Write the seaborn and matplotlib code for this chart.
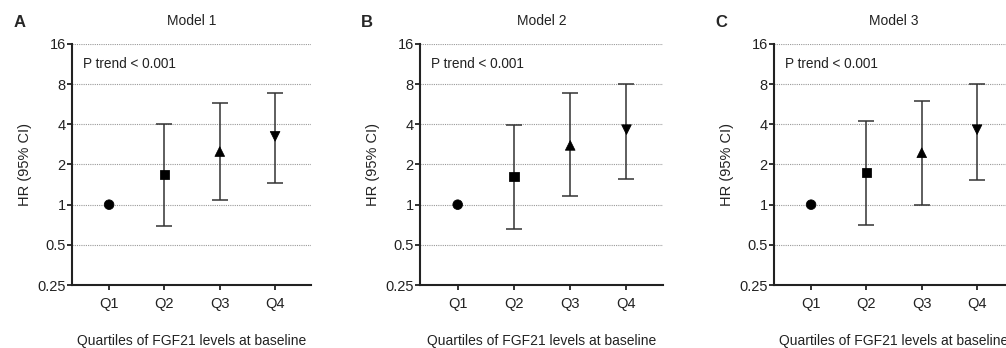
import numpy as np
import pandas as pd
import matplotlib
matplotlib.use("Agg")
import matplotlib.pyplot as plt
import seaborn as sns

# data (hazard ratios with 95% CI)
quartiles = ["Q1", "Q2", "Q3", "Q4"]
models = ["Model 1", "Model 2", "Model 3"]
panel_letters = ["A", "B", "C"]

hr_m1 = [1.0, 1.68, 2.5, 3.25]
lo_m1 = [1.0, 0.69, 1.09, 1.45]
hi_m1 = [1.0, 4.04, 5.8, 6.85]

hr_m2 = [1.0, 1.63, 2.78, 3.65]
lo_m2 = [1.0, 0.66, 1.17, 1.57]
hi_m2 = [1.0, 3.97, 6.83, 8.06]

hr_m3 = [1.0, 1.74, 2.45, 3.65]
lo_m3 = [1.0, 0.71, 1.0, 1.54]
hi_m3 = [1.0, 4.25, 6.0, 8.05]

yticks = [0.25, 0.5, 1, 2, 4, 8, 16]
ytick_labels = ["0.25", "0.5", "1", "2", "4", "8", "16"]
marker_map = {"Q1": "o", "Q2": "s", "Q3": "^", "Q4": "v"}

sns.set_style("ticks")
plt.rcParams["font.family"] = ["Liberation Sans", "DejaVu Sans"]

fig = plt.figure(figsize=(10.06, 3.48), dpi=100)
ax_rects = [[0.0716, 0.181, 0.2376, 0.6926],
            [0.4175, 0.181, 0.2416, 0.6926],
            [0.7694, 0.181, 0.2376, 0.6926]]

all_hr = [hr_m1, hr_m2, hr_m3]
all_lo = [lo_m1, lo_m2, lo_m3]
all_hi = [hi_m1, hi_m2, hi_m3]

for i in range(3):
    ax = fig.add_axes(ax_rects[i])
    df = pd.DataFrame({"quartile": quartiles, "pos": np.arange(len(quartiles)),
                       "hr": all_hr[i], "lo": all_lo[i], "hi": all_hi[i]})
    ax.set_yscale("log", base=2)
    # error bars (skip the reference group)
    ci = df[df["quartile"] != "Q1"]
    ax.errorbar(ci["pos"], ci["hr"],
                yerr=[ci["hr"] - ci["lo"], ci["hi"] - ci["hr"]],
                fmt="none", ecolor="#333333", elinewidth=1.1,
                capsize=5.5, capthick=1.1, zorder=3)
    sns.scatterplot(data=df, x="pos", y="hr", style="quartile",
                    markers=marker_map, color="black", s=48,
                    edgecolor="black", legend=False, ax=ax, zorder=4)
    ax.set_xlim(-0.67, 3.65)
    ax.set_ylim(0.25, 16)
    ax.set_xticks(df["pos"])
    ax.set_xticklabels(quartiles)
    ax.set_yticks(yticks)
    ax.set_yticklabels(ytick_labels)
    ax.minorticks_off()
    ax.yaxis.grid(True, linestyle=(0, (1, 1)), color="#999999", linewidth=0.8)
    ax.set_axisbelow(True)
    sns.despine(ax=ax)
    for s in ["left", "bottom"]:
        ax.spines[s].set_linewidth(1.5)
        ax.spines[s].set_color("#222222")
    ax.tick_params(axis="both", labelsize=10.5, width=1.3, length=3.5,
                   colors="#222222", labelcolor="#222222", pad=1)
    ax.tick_params(axis="x", pad=5)
    ax.set_xlabel("Quartiles of FGF21 levels at baseline", fontsize=10,
                  labelpad=17, color="#222222")
    ax.set_ylabel("HR (95% CI)", fontsize=10.5, labelpad=4, color="#222222")
    ax.set_title(models[i], fontsize=10, pad=14, color="#222222")
    ax.text(0.045, 0.915, "P trend < 0.001", transform=ax.transAxes,
            fontsize=9.8, ha="left", va="center", color="#222222")
    ax.text(-0.245, 1.091, panel_letters[i], transform=ax.transAxes,
            fontsize=12, fontweight="bold", ha="left", va="center")

fig.savefig("out.png", dpi=100)
